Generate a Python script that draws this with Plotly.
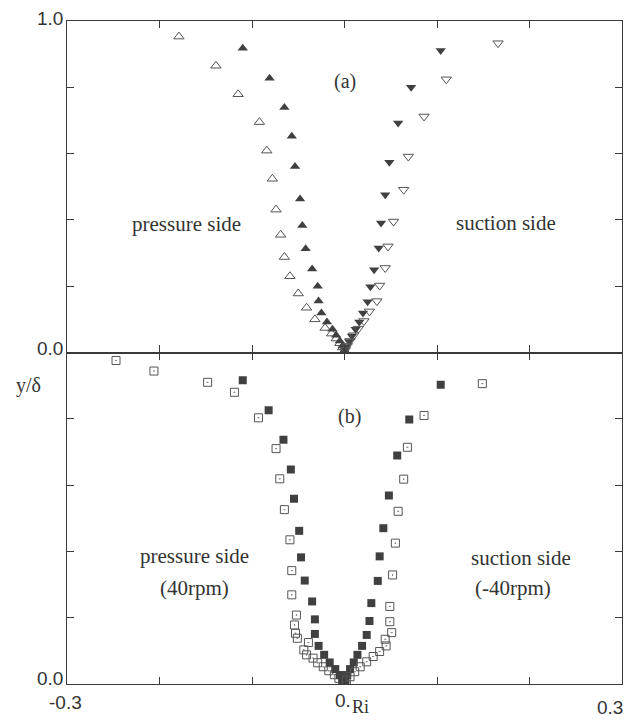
import plotly.graph_objects as go
from plotly.subplots import make_subplots

# ---- data: panel (a) ----
a_press_open_x = [-0.179,-0.139,-0.115,-0.092,-0.084,-0.078,-0.074,-0.069,-0.065,-0.059,-0.050,-0.041,-0.032,-0.021,-0.014,-0.009,-0.005,-0.002,0.0]
a_press_open_y = [0.953,0.865,0.779,0.695,0.609,0.524,0.431,0.355,0.288,0.230,0.178,0.135,0.100,0.074,0.057,0.042,0.028,0.015,0.005]
a_press_fill_x = [-0.110,-0.081,-0.065,-0.057,-0.0535,-0.048,-0.0456,-0.042,-0.035,-0.029,-0.028,-0.025,-0.019,-0.013,-0.009,-0.005,-0.002,0.0]
a_press_fill_y = [0.918,0.827,0.739,0.652,0.561,0.463,0.383,0.313,0.252,0.200,0.155,0.119,0.092,0.070,0.052,0.035,0.020,0.006]
a_suct_fill_x = [0.104,0.072,0.058,0.0485,0.044,0.0395,0.037,0.032,0.028,0.025,0.020,0.016,0.012,0.008,0.005,0.002,0.0]
a_suct_fill_y = [0.911,0.800,0.692,0.574,0.476,0.391,0.315,0.250,0.198,0.153,0.119,0.092,0.070,0.050,0.033,0.018,0.006]
a_suct_open_x = [0.166,0.110,0.086,0.069,0.064,0.053,0.047,0.044,0.038,0.035,0.027,0.021,0.015,0.010,0.006,0.003,0.001]
a_suct_open_y = [0.933,0.824,0.712,0.591,0.491,0.395,0.320,0.255,0.202,0.155,0.124,0.095,0.072,0.052,0.035,0.020,0.008]

# ---- data: panel (b) ----
b_press_open_x = [-0.247,-0.206,-0.148,-0.119,-0.093,-0.074,-0.070,-0.065,-0.059,-0.057,-0.057,-0.052,-0.054,-0.053,-0.051,-0.039,-0.044,-0.041,-0.034,-0.029,-0.023,-0.017,-0.011,-0.006,-0.002]
b_press_open_y = [0.976,0.944,0.910,0.880,0.803,0.710,0.619,0.526,0.435,0.342,0.269,0.208,0.178,0.153,0.138,0.125,0.103,0.088,0.078,0.064,0.052,0.040,0.028,0.017,0.008]
b_press_fill_x = [-0.110,-0.082,-0.066,-0.058,-0.0546,-0.049,-0.047,-0.043,-0.035,-0.032,-0.032,-0.028,-0.022,-0.016,-0.010,-0.005,-0.002]
b_press_fill_y = [0.916,0.826,0.737,0.647,0.559,0.462,0.382,0.312,0.249,0.195,0.151,0.115,0.088,0.065,0.045,0.027,0.010]
b_suct_fill_x = [0.104,0.070,0.057,0.048,0.042,0.038,0.036,0.029,0.027,0.024,0.019,0.014,0.010,0.006,0.003,0.001]
b_suct_fill_y = [0.903,0.798,0.689,0.569,0.470,0.385,0.311,0.244,0.190,0.148,0.115,0.088,0.065,0.045,0.027,0.010]
b_suct_open_x = [0.149,0.086,0.068,0.064,0.058,0.055,0.052,0.049,0.049,0.051,0.044,0.045,0.038,0.031,0.024,0.017,0.011,0.006,0.002]
b_suct_open_y = [0.906,0.810,0.714,0.618,0.521,0.425,0.329,0.234,0.188,0.155,0.135,0.115,0.098,0.083,0.067,0.052,0.037,0.022,0.010]

x_ticks = [-0.2, -0.1, 0.0, 0.1, 0.2]
y_ticks = [0.2, 0.4, 0.6, 0.8]

DARK = "#404040"
OPEN = "#555555"
AXC = "#3a3a3a"

fig = make_subplots(rows=2, cols=1, vertical_spacing=0, shared_xaxes=False)

def add(x, y, symbol, row, size=9, lw=1.0):
    fig.add_trace(go.Scatter(
        x=x, y=y, mode="markers",
        marker=dict(symbol=symbol, size=size, color=DARK if "open" not in symbol else OPEN,
                    line=dict(width=lw, color=OPEN)),
        showlegend=False), row=row, col=1)

add(a_press_open_x, a_press_open_y, "triangle-up-open", 1)
add(a_press_fill_x, a_press_fill_y, "triangle-up", 1, lw=0)
add(a_suct_fill_x, a_suct_fill_y, "triangle-down", 1, lw=0)
add(a_suct_open_x, a_suct_open_y, "triangle-down-open", 1)
add(b_press_open_x, b_press_open_y, "square-open-dot", 2, size=8)
add(b_press_fill_x, b_press_fill_y, "square", 2, size=8, lw=0)
add(b_suct_fill_x, b_suct_fill_y, "square", 2, size=8, lw=0)
add(b_suct_open_x, b_suct_open_y, "square-open-dot", 2, size=8)

axis_common = dict(showline=True, linecolor=AXC, linewidth=1.2, mirror="ticks",
                   ticks="inside", ticklen=7, tickcolor=AXC, tickwidth=1,
                   showgrid=False, zeroline=False, showticklabels=False)
for r in (1, 2):
    fig.update_xaxes(range=[-0.3, 0.3], tickvals=x_ticks, row=r, col=1, **axis_common)
    fig.update_yaxes(range=[0, 1], tickvals=y_ticks, row=r, col=1, **axis_common)

SANS = "Liberation Sans, Arial, sans-serif"
SERIF = "Liberation Serif, Times New Roman, serif"
anns = []
def lab(text, x, y, xref, yref, font, size, xanchor="center", yanchor="middle", xshift=0, yshift=0):
    anns.append(dict(text=text, x=x, y=y, xref=xref, yref=yref, showarrow=False,
                     font=dict(family=font, size=size, color="#333"),
                     xanchor=xanchor, yanchor=yanchor, xshift=xshift, yshift=yshift))

# y tick labels
lab("1.0", 0, 1.0, "paper", "y", SANS, 19, xanchor="right", xshift=-2, yshift=3)
lab("0.0", 0, 0.0, "paper", "y", SANS, 19, xanchor="right", xshift=-2, yshift=4)
lab("0.0", 0, 0.0, "paper", "y2", SANS, 19, xanchor="right", xshift=-2, yshift=6)
lab("y/δ", 0, 0.9, "paper", "y2", SERIF, 20, xanchor="right", xshift=-24)
# x tick labels
lab("-0.3", -0.3, 0, "x2", "paper", SANS, 19, yanchor="top", yshift=-6, xshift=-2)
lab("0.", 0.0, 0, "x2", "paper", SANS, 19, yanchor="top", yshift=-4, xshift=-2)
lab("Ri", 0.0, 0, "x2", "paper", SERIF, 18, xanchor="left", yanchor="top", yshift=-11, xshift=5)
lab("0.3", 0.3, 0, "x2", "paper", SANS, 19, xanchor="right", yanchor="top", yshift=-11, xshift=3)
# in-panel text
lab("(a)", 0.001, 0.817, "x", "y", SERIF, 20)
lab("pressure side", -0.171, 0.389, "x", "y", SERIF, 21)
lab("suction side", 0.175, 0.392, "x", "y", SERIF, 21)
lab("(b)", 0.005, 0.806, "x2", "y2", SERIF, 20)
lab("pressure side", -0.162, 0.385, "x2", "y2", SERIF, 21)
lab("(40rpm)", -0.162, 0.289, "x2", "y2", SERIF, 21)
lab("suction side", 0.191, 0.380, "x2", "y2", SERIF, 21)
lab("(-40rpm)", 0.1825, 0.289, "x2", "y2", SERIF, 21)

fig.update_layout(width=630, height=720, margin=dict(l=67, r=8, t=21, b=36),
                  paper_bgcolor="white", plot_bgcolor="white", annotations=anns)
fig.write_html("out.html")
